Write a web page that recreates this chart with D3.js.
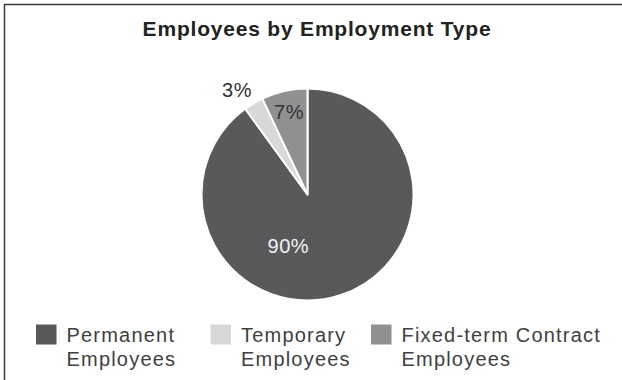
<!DOCTYPE html>
<html>
<head>
  <meta charset="utf-8">
  <title>Employees by Employment Type</title>
  <style>
    body { margin: 0; background: #fff; }
    svg { display: block; font-family: "Liberation Sans", Arial, sans-serif; }
  </style>
</head>
<body>
  <svg width="622" height="380"></svg>
  <script src="https://d3js.org/d3.v7.min.js"></script>
  <script>
  // data
  let categories = ["Permanent Employees", "Temporary Employees", "Fixed-term Contract Employees"];
  let shares = [90, 3, 7];
  let legendLines = [["Permanent", "Employees"], ["Temporary", "Employees"], ["Fixed-term Contract", "Employees"]];
  let colors = ["#59595b", "#d7d8d9", "#909092"];
  let labelColors = ["#f2f2f2", "#333", "#333"];

  let svg = d3.select("svg");
  let width = 622, height = 380;

  // frame (only top and left edges are inside the crop)
  svg.append("rect")
    .attr("x", 4.5).attr("y", 4.5)
    .attr("width", width + 20).attr("height", height + 20)
    .attr("fill", "none")
    .attr("stroke", "#3c3c3c")
    .attr("stroke-width", 1.5);

  svg.append("text")
    .attr("x", 317).attr("y", 36)
    .attr("text-anchor", "middle")
    .attr("font-size", 21)
    .attr("font-weight", "bold")
    .attr("letter-spacing", 0.8)
    .attr("fill", "#222")
    .text("Employees by Employment Type");

  // pie
  let cx = 307.5, cy = 194.5, r = 106;
  let pie = d3.pie().sort(null).value(d => d);
  let arcs = pie(shares);
  let arc = d3.arc().innerRadius(0).outerRadius(r);

  let g = svg.append("g").attr("transform", "translate(" + cx + "," + cy + ")");
  g.selectAll("path")
    .data(arcs)
    .enter()
    .append("path")
    .attr("d", arc)
    .attr("fill", (d, i) => colors[i])
    .attr("stroke", "#fff")
    .attr("stroke-width", 2)
    .attr("stroke-linejoin", "round");

  // label placement: small outside slice goes past the rim,
  // the big one sits low-left of the centre like the original
  function labelPos(d, i) {
    let mid = (d.startAngle + d.endAngle) / 2;
    let rad = 85, ang = mid;
    if (d.endAngle - d.startAngle > Math.PI) { rad = 55; ang = mid + 0.67; }
    else if (d.value < 5) { rad = 126; ang = mid - 0.06; }
    return [Math.sin(ang) * rad, -Math.cos(ang) * rad];
  }

  g.selectAll(".pct")
    .data(arcs)
    .enter()
    .append("text")
    .attr("class", "pct")
    .attr("x", (d, i) => labelPos(d, i)[0])
    .attr("y", (d, i) => labelPos(d, i)[1])
    .attr("dy", "0.36em")
    .attr("text-anchor", "middle")
    .attr("font-size", 20)
    .attr("letter-spacing", 0.5)
    .attr("fill", (d, i) => labelColors[i])
    .text(d => d.value + "%");

  // legend
  let legendX = d3.scaleOrdinal().domain(categories).range([36, 210.5, 371]);
  let lg = svg.selectAll(".legend")
    .data(categories)
    .enter()
    .append("g")
    .attr("class", "legend")
    .attr("transform", d => "translate(" + legendX(d) + ",324.5)");

  lg.append("rect")
    .attr("width", 20.5).attr("height", 20)
    .attr("fill", (d, i) => colors[i]);

  lg.append("text")
    .attr("x", 30.5)
    .attr("font-size", 20)
    .attr("letter-spacing", 1.2)
    .attr("fill", "#404040")
    .selectAll("tspan")
    .data((d, i) => legendLines[i])
    .enter()
    .append("tspan")
    .attr("x", 30.5)
    .attr("y", (t, j) => 17.2 + j * 24)
    .text(t => t);
  </script>
</body>
</html>
